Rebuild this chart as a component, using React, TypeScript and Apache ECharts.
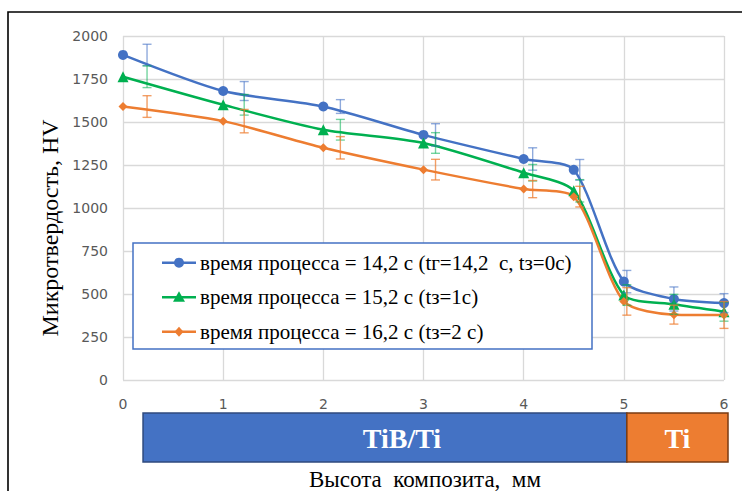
import React, { useEffect, useRef } from 'react';
import * as echarts from 'echarts';

const heights = [0, 1, 2, 3, 4, 4.5, 5, 5.5, 6];
const errorBarX = [0.24, 1.21, 2.17, 3.12, 4.09, 4.56, 5.03, 5.5, 6.0];

const seriesNames = [
  'время процесса = 14,2 с (tг=14,2  с, tз=0с)',
  'время процесса = 15,2 с (tз=1с)',
  'время процесса = 16,2 с (tз=2 с)',
];
const hv142 = [1890, 1680, 1590, 1425, 1285, 1222, 572, 471, 447];
const hv152 = [1763, 1600, 1455, 1378, 1205, 1100, 494, 440, 397];
const hv162 = [1590, 1505, 1350, 1223, 1110, 1066, 457, 380, 378];
const err142 = [62, 55, 40, 65, 65, 60, 65, 70, 55];
const err152 = [63, 60, 60, 60, 48, 65, 60, 58, 55];
const err162 = [63, 68, 65, 60, 50, 60, 80, 55, 78];

const colors = ['#4472C4', '#00B050', '#ED7D31'];
const errColors = ['rgba(68,114,196,0.6)', 'rgba(0,176,80,0.55)', 'rgba(237,125,49,0.75)'];
const symbols = ['circle', 'triangle', 'diamond'];
const symbolSizes = [10, 11, 9];

const regionNames = ['TiB/Ti', 'Ti'];
const regionFrom = [0.2, 5.03];
const regionTo = [5.03, 6.04];
const regionLabelShift = [17, 0];
const regionFill = ['#4472C4', '#ED7D31'];
const regionStroke = ['#2F4A7E', '#7A3B12'];

const yMin = 0;
const yMax = 2000;
const yStep = 250;
const xMin = 0;
const xMax = 6;
const xStep = 1;

const yTitle = 'Микротвердость, HV';
const xTitle = 'Высота  композита,  мм';

const SERIF = 'Liberation Serif';
const SANS = 'DejaVu Sans';

function legendMarker(kind: string, cx: number, cy: number, color: string): any {
  if (kind === 'circle') {
    return { type: 'circle', shape: { cx, cy, r: 5 }, style: { fill: color } };
  }
  if (kind === 'triangle') {
    return {
      type: 'polygon',
      shape: { points: [[cx, cy - 6], [cx + 6, cy + 4.5], [cx - 6, cy + 4.5]] },
      style: { fill: color },
    };
  }
  return {
    type: 'polygon',
    shape: { points: [[cx, cy - 5], [cx + 4.5, cy], [cx, cy + 5], [cx - 4.5, cy]] },
    style: { fill: color },
  };
}

export default function App() {
  const ref = useRef<HTMLDivElement>(null);
  useEffect(() => {
    if (!ref.current) return;
    const chart = echarts.init(ref.current, undefined, { renderer: 'svg' });
    const values = [hv142, hv152, hv162];
    const errs = [err142, err152, err162];

    const lineSeries = values.map((vals, i) => ({
      name: seriesNames[i],
      type: 'line',
      data: heights.map((h, j) => [h, vals[j]]),
      smooth: 0.25,
      symbol: symbols[i],
      symbolSize: symbolSizes[i],
      lineStyle: { color: colors[i], width: 2.5 },
      itemStyle: { color: colors[i] },
      z: 3,
    }));

    const errSeries = errs.map((e, i) => ({
      name: 'err' + i,
      type: 'custom',
      data: errorBarX.map((x, j) => [x, values[i][j] - e[j], values[i][j] + e[j]]),
      encode: { x: 0, y: [1, 2] },
      z: 4,
      renderItem: (params: any, api: any) => {
        const x = api.value(0);
        const top = api.coord([x, api.value(2)]);
        const bot = api.coord([x, api.value(1)]);
        const w = 4.5;
        const style = { stroke: errColors[i], lineWidth: 1.4 };
        return {
          type: 'group',
          children: [
            { type: 'line', shape: { x1: top[0], y1: top[1], x2: bot[0], y2: bot[1] }, style },
            { type: 'line', shape: { x1: top[0] - w, y1: top[1], x2: top[0] + w, y2: top[1] }, style },
            { type: 'line', shape: { x1: bot[0] - w, y1: bot[1], x2: bot[0] + w, y2: bot[1] }, style },
          ],
        };
      },
    }));

    chart.setOption({
      animation: false,
      backgroundColor: '#ffffff',
      grid: { left: 123, right: 18, top: 36, height: 344 },
      xAxis: {
        type: 'value',
        min: xMin,
        max: xMax,
        interval: xStep,
        axisLine: { show: false },
        axisTick: { show: false },
        axisLabel: { color: '#595959', fontSize: 14, fontFamily: SANS, margin: 17, formatter: (v: number) => String(v) },
        splitLine: { show: true, lineStyle: { color: '#D9D9D9', width: 1.3 } },
      },
      yAxis: {
        type: 'value',
        min: yMin,
        max: yMax,
        interval: yStep,
        axisLine: { show: false },
        axisTick: { show: false },
        axisLabel: { color: '#595959', fontSize: 14, fontFamily: SANS, margin: 15, formatter: (v: number) => String(v) },
        splitLine: { show: true, lineStyle: { color: '#D9D9D9', width: 1.3 } },
      },
      series: [...errSeries, ...lineSeries],
    });

    const graphic: any[] = [
      {
        type: 'rect',
        shape: { x: 8, y: 12, width: 900, height: 700 },
        style: { fill: 'none', stroke: '#000', lineWidth: 1.6 },
        silent: true,
      },
      {
        type: 'text',
        x: 50,
        y: 228,
        rotation: Math.PI / 2,
        style: {
          text: yTitle,
          fontFamily: SERIF,
          fontSize: 24,
          fill: '#000',
          align: 'center',
          verticalAlign: 'middle',
        },
      },
      {
        type: 'text',
        x: 425,
        y: 479,
        style: {
          text: xTitle,
          fontFamily: SERIF,
          fontSize: 23,
          fill: '#000',
          align: 'center',
          verticalAlign: 'middle',
        },
      },
    ];

    // legend box
    const lgLeft = 133;
    const lgTop = 243;
    const lgRowY = [262.7, 297.3, 331.7];
    const legendChildren: any[] = [
      {
        type: 'rect',
        shape: { x: lgLeft, y: lgTop, width: 459, height: 106 },
        style: { fill: '#ffffff', stroke: '#4472C4', lineWidth: 1.5 },
      },
    ];
    seriesNames.forEach((name, i) => {
      const cy = lgRowY[i];
      legendChildren.push({
        type: 'line',
        shape: { x1: 162, y1: cy, x2: 196, y2: cy },
        style: { stroke: colors[i], lineWidth: 2.5 },
      });
      legendChildren.push(legendMarker(symbols[i], 179, cy, colors[i]));
      legendChildren.push({
        type: 'text',
        x: 200,
        y: cy,
        style: {
          text: name,
          fontFamily: SERIF,
          fontSize: 21,
          fill: '#000',
          align: 'left',
          verticalAlign: 'middle',
        },
      });
    });
    graphic.push({ type: 'group', z: 100, children: legendChildren });

    regionNames.forEach((name, i) => {
      const x1 = chart.convertToPixel({ xAxisIndex: 0 }, regionFrom[i]) as number;
      const x2 = chart.convertToPixel({ xAxisIndex: 0 }, regionTo[i]) as number;
      graphic.push({
        type: 'rect',
        shape: { x: x1, y: 413, width: x2 - x1, height: 49 },
        style: { fill: regionFill[i], stroke: regionStroke[i], lineWidth: 1.5 },
      });
      graphic.push({
        type: 'text',
        x: (x1 + x2) / 2 + regionLabelShift[i],
        y: 438,
        style: {
          text: name,
          fontFamily: SERIF,
          fontWeight: 'bold',
          fontSize: 28,
          fill: '#ffffff',
          align: 'center',
          verticalAlign: 'middle',
        },
      });
    });
    chart.setOption({ graphic });

    return () => chart.dispose();
  }, []);
  return (
    <div
      ref={ref}
      style={{ position: 'fixed', left: 0, top: 0, width: 742, height: 491 }}
    />
  );
}
